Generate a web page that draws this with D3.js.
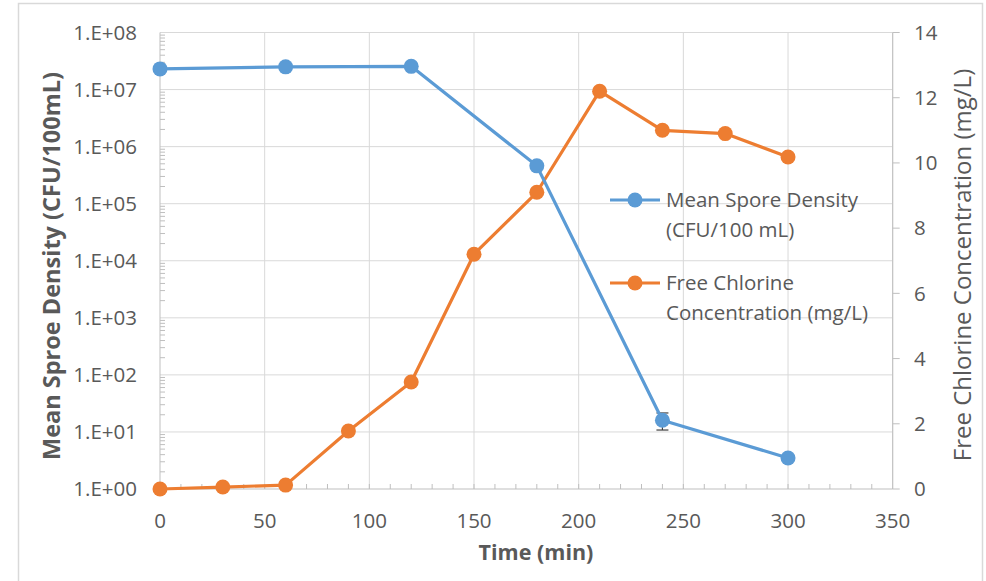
<!DOCTYPE html>
<html>
<head>
<meta charset="utf-8">
<script src="https://cdn.jsdelivr.net/npm/d3@7"></script>
<style>
  body { margin: 0; background: #fff; }
  svg { display: block; font-family: "Open Sans", sans-serif; }
</style>
</head>
<body>
<svg width="986" height="581"></svg>
<script>
// Time points (min)
const sporeTime = [0, 60, 120, 180, 240, 300];
const sporeDensity = [2.3e7, 2.5e7, 2.55e7, 4.6e5, 16, 3.5];
const sporeErrLow = [2.3e7, 2.5e7, 2.55e7, 4.6e5, 10.8, 3.5];
const sporeErrHigh = [2.3e7, 2.5e7, 2.55e7, 4.6e5, 21.5, 3.5];

const chlorineTime = [0, 30, 60, 90, 120, 150, 180, 210, 240, 270, 300];
const chlorine = [0, 0.06, 0.12, 1.78, 3.28, 7.2, 9.1, 12.2, 11.0, 10.9, 10.18];

const xTicks = [0, 50, 100, 150, 200, 250, 300, 350];
const yRightTicks = [0, 2, 4, 6, 8, 10, 12, 14];
const decades = [0, 1, 2, 3, 4, 5, 6, 7, 8];

const seriesNames = ["Mean Spore Density", "(CFU/100 mL)", "Free Chlorine", "Concentration (mg/L)"];

const blue = "#5b9bd5", orange = "#ed7d31";
const textCol = "#595959";

const svg = d3.select("svg");

// outer chart frame
svg.append("rect")
    .attr("x", 18.5).attr("y", 3.5)
    .attr("width", 964).attr("height", 600)
    .attr("fill", "none").attr("stroke", "#d9d9d9").attr("stroke-width", 1.5);

const pLeft = 160, pRight = 892.7, pTop = 32.5, pBottom = 489;

const x = d3.scaleLinear().domain([0, 350]).range([pLeft, pRight]);
const y = d3.scaleLog().domain([1, 1e8]).range([pBottom, pTop]);
const y2 = d3.scaleLinear().domain([0, 14]).range([pBottom, pTop]);

const g = svg.append("g");

// gridlines
g.selectAll(".vgrid")
    .data(xTicks.slice(1))
    .enter().append("line")
    .attr("x1", d => x(d)).attr("x2", d => x(d))
    .attr("y1", pTop).attr("y2", pBottom)
    .attr("stroke", "#d9d9d9").attr("stroke-width", 1);

g.selectAll(".hgrid")
    .data(decades.slice(1))
    .enter().append("line")
    .attr("x1", pLeft).attr("x2", pRight)
    .attr("y1", d => y(Math.pow(10, d))).attr("y2", d => y(Math.pow(10, d)))
    .attr("stroke", "#d9d9d9").attr("stroke-width", 1);

// left axis with minor log ticks inside
const minor = [];
decades.slice(0, -1).forEach(k => {
    for (let m = 2; m <= 9; m++) minor.push(m * Math.pow(10, k));
});
g.selectAll(".minorY")
    .data(minor)
    .enter().append("line")
    .attr("x1", pLeft).attr("x2", pLeft + 5)
    .attr("y1", d => y(d)).attr("y2", d => y(d))
    .attr("stroke", "#bfbfbf");
g.append("line")
    .attr("x1", pLeft).attr("x2", pLeft).attr("y1", pTop).attr("y2", pBottom)
    .attr("stroke", "#bfbfbf");
g.selectAll(".ylab")
    .data(decades)
    .enter().append("text")
    .attr("x", 137).attr("y", d => y(Math.pow(10, d)))
    .attr("dy", "0.35em")
    .attr("text-anchor", "end")
    .attr("font-size", 20.5).attr("fill", textCol)
    .text(d => "1.E+0" + d);

// bottom axis with minor ticks every 10
g.selectAll(".minorX")
    .data(d3.range(10, 350, 10))
    .enter().append("line")
    .attr("x1", d => x(d)).attr("x2", d => x(d))
    .attr("y1", pBottom).attr("y2", pBottom - 5)
    .attr("stroke", "#bfbfbf");
g.append("line")
    .attr("x1", pLeft).attr("x2", pRight).attr("y1", pBottom).attr("y2", pBottom)
    .attr("stroke", "#bfbfbf");
g.selectAll(".xlab")
    .data(xTicks)
    .enter().append("text")
    .attr("x", d => x(d)).attr("y", 520.5)
    .attr("dy", "0.35em")
    .attr("text-anchor", "middle")
    .attr("font-size", 20.5).attr("fill", textCol)
    .text(d => d);

// right axis
g.append("line")
    .attr("x1", pRight).attr("x2", pRight).attr("y1", pTop).attr("y2", pBottom)
    .attr("stroke", "#bfbfbf");
g.selectAll(".rtick")
    .data(yRightTicks)
    .enter().append("line")
    .attr("x1", pRight).attr("x2", pRight + 7)
    .attr("y1", d => y2(d)).attr("y2", d => y2(d))
    .attr("stroke", "#bfbfbf");
g.selectAll(".rlab")
    .data(yRightTicks)
    .enter().append("text")
    .attr("x", 914).attr("y", d => y2(d))
    .attr("dy", "0.35em")
    .attr("font-size", 20.5).attr("fill", textCol)
    .text(d => d);

// axis titles
svg.append("text")
    .attr("transform", "translate(60,266) rotate(-90)")
    .attr("text-anchor", "middle")
    .attr("font-size", 23.5).attr("font-weight", "bold").attr("fill", textCol)
    .text("Mean Sproe Density (CFU/100mL)");
svg.append("text")
    .attr("transform", "translate(971,265) rotate(-90)")
    .attr("text-anchor", "middle")
    .attr("font-size", 24).attr("fill", textCol)
    .text("Free Chlorine Concentration (mg/L)");
svg.append("text")
    .attr("x", 536).attr("y", 552).attr("dy", "0.35em")
    .attr("text-anchor", "middle")
    .attr("font-size", 21.5).attr("font-weight", "bold").attr("fill", textCol)
    .text("Time (min)");

// series data
const sporeData = sporeTime.map((t, i) => ({ t, v: sporeDensity[i], lo: sporeErrLow[i], hi: sporeErrHigh[i] }));
const chlorData = chlorineTime.map((t, i) => ({ t, v: chlorine[i] }));

g.append("path")
    .datum(chlorData)
    .attr("fill", "none").attr("stroke", orange).attr("stroke-width", 3.2)
    .attr("stroke-linejoin", "round")
    .attr("d", d3.line().x(d => x(d.t)).y(d => y2(d.v)));
g.selectAll(".cdot")
    .data(chlorData)
    .enter().append("circle")
    .attr("cx", d => x(d.t)).attr("cy", d => y2(d.v)).attr("r", 7.5)
    .attr("fill", orange);

// error bars
const errs = sporeData.filter(d => d.hi > d.lo);
errs.forEach(d => {
    const eb = g.append("g").attr("stroke", "#404040").attr("stroke-width", 1.2);
    eb.append("line").attr("x1", x(d.t)).attr("x2", x(d.t)).attr("y1", y(d.lo)).attr("y2", y(d.hi));
    eb.append("line").attr("x1", x(d.t) - 6).attr("x2", x(d.t) + 6).attr("y1", y(d.lo)).attr("y2", y(d.lo));
    eb.append("line").attr("x1", x(d.t) - 6).attr("x2", x(d.t) + 6).attr("y1", y(d.hi)).attr("y2", y(d.hi));
});

g.append("path")
    .datum(sporeData)
    .attr("fill", "none").attr("stroke", blue).attr("stroke-width", 3.2)
    .attr("stroke-linejoin", "round")
    .attr("d", d3.line().x(d => x(d.t)).y(d => y(d.v)));
g.selectAll(".sdot")
    .data(sporeData)
    .enter().append("circle")
    .attr("cx", d => x(d.t)).attr("cy", d => y(d.v)).attr("r", 7.5)
    .attr("fill", blue);

// legend
const legend = svg.append("g").attr("transform", "translate(610,200)");
[[blue, 0], [orange, 83]].forEach(([c, dy], i) => {
    legend.append("line")
        .attr("x1", 0).attr("x2", 50).attr("y1", dy).attr("y2", dy)
        .attr("stroke", c).attr("stroke-width", 3.2);
    legend.append("circle").attr("cx", 25).attr("cy", dy).attr("r", 7.5).attr("fill", c);
    legend.append("text")
        .attr("x", 56).attr("y", dy).attr("dy", "0.35em")
        .attr("font-size", 20.5).attr("fill", textCol)
        .text(seriesNames[i * 2]);
    legend.append("text")
        .attr("x", 56).attr("y", dy + 30).attr("dy", "0.35em")
        .attr("font-size", 20.5).attr("fill", textCol)
        .text(seriesNames[i * 2 + 1]);
});
</script>
</body>
</html>
